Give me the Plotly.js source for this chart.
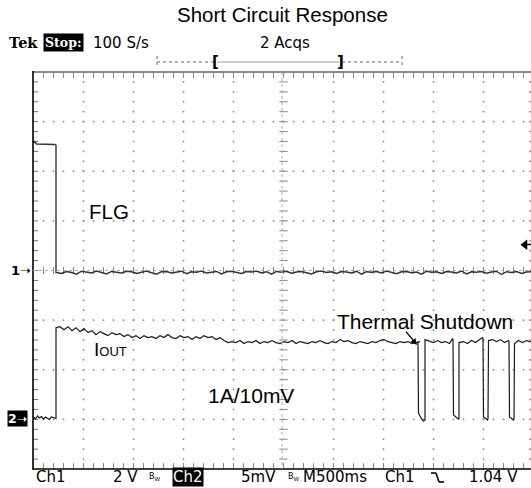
<!DOCTYPE html>
<html><head><meta charset="utf-8">
<script src="https://cdn.plot.ly/plotly-3.0.1.min.js"></script>
<style>html,body{margin:0;padding:0;background:#fff;overflow:hidden}#plot{width:531px;height:488px}</style>
</head><body><div id="plot"></div>
<script>
// ---------------- DATA ----------------
// Ch1 (FLG), volts, 2 V/div, ground at screen centre
const flgHighT = [0.00, 0.01, 0.03, 0.12, 0.21, 0.225];
const flgHighV = [5.15, 5.2, 5.1, 5.1, 5.08, 5.05];
const flgLowT0 = 0.23;        // first low sample (s)
const flgLowDt = 0.05;        // sample spacing of the values below (s)
const flgLowV = [-0.08,-0.12,-0.04,-0.08,-0.15,-0.03,-0.06,-0.1,-0.02,-0.07,-0.14,-0.04,-0.06,-0.1,-0.03,-0.05,-0.12,-0.06,-0.02,-0.09,
  -0.15,-0.05,-0.04,-0.1,-0.06,-0.03,-0.13,-0.05,-0.07,-0.02,-0.1,-0.06,-0.04,-0.14,-0.05,-0.03,-0.08,-0.12,-0.04,-0.06,
  -0.02,-0.1,-0.05,-0.15,-0.04,-0.07,-0.03,-0.11,-0.06,-0.04,-0.09,-0.14,-0.05,-0.02,-0.08,-0.05,-0.12,-0.04,-0.06,-0.1,
  -0.03,-0.15,-0.05,-0.07,-0.04,-0.1,-0.02,-0.06,-0.13,-0.05,-0.04,-0.09,-0.06,-0.15,-0.03,-0.07,-0.05,-0.12,-0.04,-0.06,
  -0.1,-0.02,-0.14,-0.05,-0.07,-0.04,-0.11,-0.06,-0.03,-0.16,-0.05,-0.08,-0.04,-0.12,-0.06,-0.05];

// Ch2 (IOUT), mV, 5 mV/div (1A/10mV)
const ioutBaseT = [0.00,0.02,0.04,0.06,0.08,0.10,0.12,0.14,0.16,0.18,0.20,0.22,0.225];
const ioutBaseV = [0.1,-0.1,0.2,0.0,0.15,-0.1,0.1,0.0,-0.15,0.1,0.0,-0.1,-0.05];
const ioutOnT0 = 0.225;
const ioutOnDt = 0.04;
const ioutOnV = [9.1,9.2,8.9,9.2,8.8,9.1,8.7,9.0,8.6,8.8,8.4,8.7,8.5,8.3,8.6,8.4,8.5,8.2,8.4,8.1,
  8.3,8.0,8.3,8.1,8.2,8.0,8.3,8.1,8.4,8.1,8.0,8.3,8.1,8.2,7.9,8.2,8.0,8.3,8.1,8.2,
  7.9,8.1,7.8,7.6,7.7,7.6,7.8,7.5,7.7,7.6,7.8,7.5,7.7,7.6,7.8,7.6,7.5,7.7,7.6,7.8,
  7.5,7.7,7.6,7.5,7.7,7.6,7.8,7.6,7.5,7.7,7.6,7.9,7.7,7.8,7.6,7.5,7.7,7.6,7.5,7.7,
  7.6,7.8,7.9,7.7,7.6,7.5,7.7,7.6,7.7,7.5,7.6,7.7];
// thermal shutdown cycling
const ioutCycT = [3.845,3.85,3.88,3.90,3.915,3.915,3.96,4.00,4.04,4.08,4.12,4.16,4.19,4.195,
  4.20,4.23,4.245,4.255,4.255,4.30,4.34,4.38,4.42,4.46,4.49,4.495,
  4.50,4.53,4.54,4.545,4.55,4.59,4.63,4.67,4.71,4.75,4.755,
  4.76,4.79,4.80,4.805,4.81,4.85,4.89,4.93,4.97,5.00];
const ioutCycV = [7.6,0.5,-0.1,-0.3,-0.2,7.9,7.7,7.6,7.8,7.6,7.7,7.5,8.0,7.9,
  0.3,0.0,-0.1,-0.1,7.6,7.7,7.5,7.8,7.6,7.9,8.1,8.0,
  0.1,-0.1,-0.2,-0.1,7.8,7.9,7.7,7.9,7.6,7.8,7.7,
  0.1,-0.1,-0.2,-0.1,7.5,7.8,7.6,7.8,7.7,7.6];
const trigLevel = 1.04; // V, Ch1 falling

// ---------------- BUILD ----------------
const flgT = flgHighT.slice(), flgV = flgHighV.slice();
flgLowV.forEach((v,i)=>{flgT.push(+(flgLowT0+i*flgLowDt).toFixed(3)); flgV.push(v);});
flgT.splice(flgHighT.length,0,0.225); flgV.splice(flgHighV.length,0,-0.08);

const ioT = ioutBaseT.slice(), ioV = ioutBaseV.slice();
ioutOnV.forEach((v,i)=>{ioT.push(+(ioutOnT0+i*ioutOnDt).toFixed(3)); ioV.push(v);});
ioutCycT.forEach((t,i)=>{ioT.push(t); ioV.push(ioutCycV[i]);});

// graticule (decoration)
const gx=[],gy=[];
[-6,-4,-2,2,4,6].forEach(v=>{for(let i=1;i<50;i++){gx.push(i*0.1);gy.push(v);}});
[0.5,1,1.5,2,3,3.5,4,4.5,4.965].forEach(t=>{for(let k=1;k<40;k++){gx.push(t);gy.push(-8+k*0.4);}});
const leftTx=[],leftTy=[];
for(let k=1;k<40;k++){leftTx.push(0.02);leftTy.push(-8+k*0.4);}
const hTx=[],hTy=[];
for(let i=1;i<50;i++){hTx.push(i*0.1);hTy.push(0);}
for(let i=1;i<50;i++){hTx.push(i*0.1);hTy.push(7.9);}
for(let i=1;i<50;i++){hTx.push(i*0.1);hTy.push(-7.9);}
const vTx=[],vTy=[];
for(let k=1;k<40;k++){vTx.push(2.5);vTy.push(-8+k*0.4);}

const L=33,T=72,PW=498,PH=397;
const px=x=>(x-L)/PW, py=y=>(T+PH-y)/PH;

const traces=[
 {x:gx,y:gy,mode:'markers',type:'scatter',marker:{symbol:'square',size:1.6,color:'#888'},hoverinfo:'skip'},
 {x:leftTx,y:leftTy,mode:'markers',type:'scatter',marker:{symbol:'line-ew',size:4,line:{width:1,color:'#777'}},hoverinfo:'skip'},
 {x:hTx,y:hTy,mode:'markers',type:'scatter',marker:{symbol:'line-ns',size:5,line:{width:1,color:'#888'}},hoverinfo:'skip'},
 {x:vTx,y:vTy,mode:'markers',type:'scatter',marker:{symbol:'line-ew',size:6,line:{width:1,color:'#888'}},hoverinfo:'skip'},
 {x:ioT,y:ioV,yaxis:'y2',mode:'lines',type:'scatter',line:{color:'#1a1a1a',width:1.2}},
 {x:flgT,y:flgV,mode:'lines',type:'scatter',line:{color:'#333',width:1.4}},
 {x:[4.915],y:[trigLevel],mode:'markers',type:'scatter',marker:{symbol:'triangle-left',size:9,color:'#000'},cliponaxis:false}
];

const F='Liberation Sans, Arial, sans-serif';
const D='DejaVu Sans, sans-serif';
function ann(x,y,text,opt){return Object.assign({xref:'paper',yref:'paper',x:px(x),y:py(y),text:text,showarrow:false,xanchor:'left',yanchor:'middle',font:{family:D,size:13,color:'#000'},borderpad:0},opt||{});}

const annotations=[
 ann(282,15,'Short Circuit Response',{xanchor:'center',font:{family:F,size:20.5,color:'#000'}}),
 ann(8,43,'<b>Tek</b>',{font:{family:'DejaVu Serif, serif',size:14.5,color:'#000'}}),
 ann(43,43,'<b>Stop:</b>',{bgcolor:'#000',font:{family:'DejaVu Serif, serif',size:12.5,color:'#fff'},borderpad:1}),
 ann(92,43,'100 S/s',{font:{family:D,size:15,color:'#000'}}),
 ann(259,43,'2 Acqs',{font:{family:D,size:15,color:'#000'}}),
 ann(215,62,'<b>[</b>',{xanchor:'center',font:{family:D,size:15,color:'#000'}}),
 ann(340,62,'<b>]</b>',{xanchor:'center',font:{family:D,size:15,color:'#000'}}),
 ann(88,211,'FLG',{font:{family:F,size:20.5,color:'#000'}}),
 ann(93,349,'I<span style="font-size:13px">OUT</span>',{font:{family:F,size:19,color:'#000'}}),
 ann(207,395,'1A/10mV',{font:{family:F,size:21,color:'#000'}}),
 ann(336,321,'Thermal Shutdown',{font:{family:F,size:21,color:'#000'}}),
 {xref:'paper',yref:'paper',x:px(417),y:py(345),ax:-14,ay:-17,axref:'pixel',ayref:'pixel',text:' ',showarrow:true,arrowhead:2,arrowsize:1,arrowwidth:1.3,arrowcolor:'#000'},
 ann(10,270,'<b>1</b>➝',{font:{family:D,size:13,color:'#000'}}),
 ann(7,418,'<b>2</b>➝',{bgcolor:'#000',font:{family:D,size:12.5,color:'#fff'},borderpad:0}),
 ann(35,477,'Ch1',{font:{family:D,size:15,color:'#000'}}),
 ann(112,477,'2 V',{font:{family:D,size:15,color:'#000'}}),
 ann(148,477,'<span style="font-size:8px">B<sub>W</sub></span>',{font:{family:D,size:9,color:'#000'}}),
 ann(172,477,'Ch2',{bgcolor:'#000',font:{family:D,size:15,color:'#fff'},borderpad:0}),
 ann(240,477,'5mV',{font:{family:D,size:15,color:'#000'}}),
 ann(287,477,'<span style="font-size:8px">B<sub>W</sub></span>',{font:{family:D,size:9,color:'#000'}}),
 ann(302,477,'M500ms',{font:{family:D,size:15,color:'#000'}}),
 ann(384,477,'Ch1',{font:{family:D,size:15,color:'#000'}}),
 ann(468,477,'1.04 V',{font:{family:D,size:15,color:'#000'}})
];

function seg(x0,y0,x1,y1,color,width,dash){return {type:'line',xref:'paper',yref:'paper',x0:px(x0),y0:py(y0),x1:px(x1),y1:py(y1),line:{color:color,width:width,dash:dash||'solid'}};}
const shapes=[
 seg(33,72,531,72,'#888',2),
 seg(33,71,33,470,'#000',1.6),
 seg(33,469,531,469,'#000',1.6),
 seg(33,270.5,531,270.5,'#aaa',1,'dot'),
 seg(282,72,282,469,'#aaa',1,'dot'),
 seg(157,62,214,62,'#666',1,'dot'),
 seg(217,62,339,62,'#999',1),
 seg(342,62,402,62,'#666',1,'dot'),
 seg(157,56,157,68,'#666',1,'dot'),
 seg(402,56,402,68,'#666',1,'dot'),
 seg(524,244.5,531,244.5,'#000',1.5),
 // trigger slope glyph
 seg(431,473,436,473,'#000',1.6),
 seg(436,473,439,482,'#000',1.6),
 seg(439,482,444,482,'#000',1.6)
];

const layout={width:531,height:488,margin:{l:L,r:0,t:T,b:488-T-PH,pad:0},
 paper_bgcolor:'#fff',plot_bgcolor:'#fff',showlegend:false,
 xaxis:{range:[-0.005,4.975],showgrid:false,zeroline:false,showticklabels:false,showline:false,ticks:''},
 yaxis:{range:[-8,8],showgrid:false,zeroline:false,showticklabels:false,showline:false,ticks:''},
 yaxis2:{range:[-5.14,34.86],overlaying:'y',showgrid:false,zeroline:false,showticklabels:false,showline:false,ticks:''},
 annotations:annotations,shapes:shapes};

Plotly.newPlot('plot',traces,layout,{staticPlot:true,displayModeBar:false});
</script></body></html>
